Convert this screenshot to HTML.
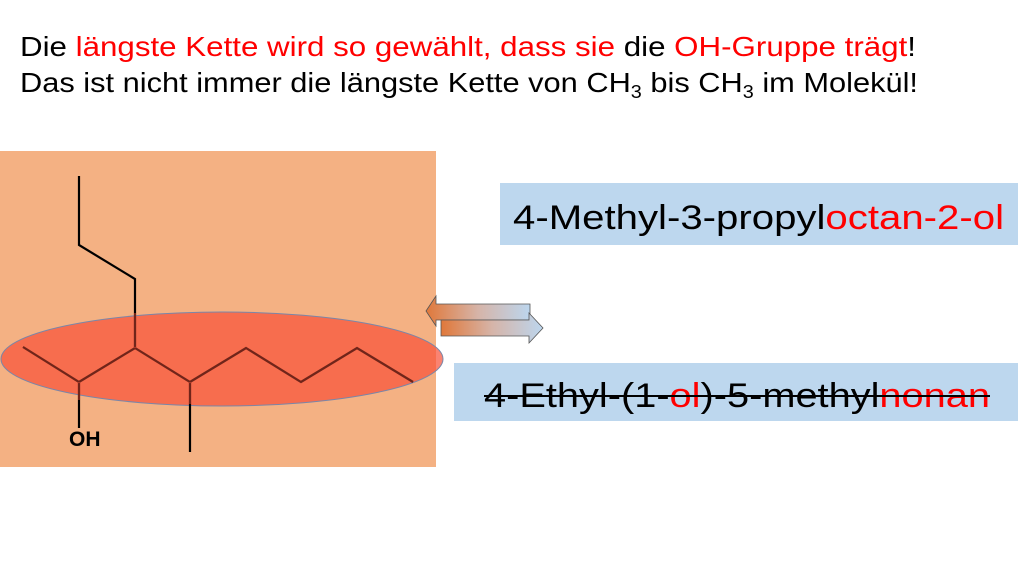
<!DOCTYPE html>
<html><head><meta charset="utf-8"><style>html,body{margin:0;padding:0;background:#fff}svg{display:block}</style></head>
<body>
<svg width="1024" height="576" viewBox="0 0 1024 576" xmlns="http://www.w3.org/2000/svg" font-family="Liberation Sans, sans-serif">
<defs>
<linearGradient id="g" x1="0" x2="1" y1="0" y2="0">
<stop offset="0" stop-color="#e0783a"/><stop offset="0.5" stop-color="#d6b4a8"/><stop offset="1" stop-color="#bcd6ee"/>
</linearGradient>
</defs>
<text x="20" y="56" font-size="28" textLength="896" lengthAdjust="spacingAndGlyphs"><tspan fill="#000">Die </tspan><tspan fill="#ff0000">längste Kette wird so gewählt, dass sie</tspan><tspan fill="#000"> die </tspan><tspan fill="#ff0000">OH-Gruppe trägt</tspan><tspan fill="#000">!</tspan></text>
<text x="20" y="92" font-size="28" textLength="898" lengthAdjust="spacingAndGlyphs">Das ist nicht immer die längste Kette von CH<tspan font-size="18" dy="6">3</tspan><tspan dy="-6"> bis CH</tspan><tspan font-size="18" dy="6">3</tspan><tspan dy="-6"> im Molekül!</tspan></text>
<rect x="0" y="151" width="436" height="316" fill="#f4b183"/>
<ellipse cx="222" cy="359" rx="221" ry="47" fill="#f8533a" fill-opacity="0.72" stroke="#7a86a8" stroke-width="1"/>
<g stroke="#000" stroke-width="2.2" fill="none" stroke-linejoin="miter">
<polyline points="79,176 79,245 135,279 135,348"/>
<polyline points="23,347 79,382 135,348 190,382 246,348 301,382 357,348 413,382"/>
<line x1="79" y1="382" x2="79" y2="428"/>
<line x1="190" y1="382" x2="190" y2="452"/>
</g>
<g stroke="#f8533a" stroke-opacity="0.45" stroke-width="2.4" fill="none">
<polyline points="135,313 135,348"/>
<polyline points="23,347 79,382 135,348 190,382 246,348 301,382 357,348 413,382"/>
<line x1="79" y1="382" x2="79" y2="400"/>
<line x1="190" y1="382" x2="190" y2="404"/>
</g>
<text x="69" y="446" font-size="21" font-weight="bold">OH</text>
<polygon points="426,311 436,296 436,304 530,304 530,320 436,320 436,326" fill="url(#g)" stroke="#555" stroke-width="0.8"/>
<polygon points="441,320 529,320 529,313 543,328 529,343 529,336 441,336" fill="url(#g)" stroke="#555" stroke-width="0.8"/>
<rect x="500" y="183" width="518" height="62" fill="#bdd7ee"/>
<text x="513" y="229" font-size="34" textLength="491" lengthAdjust="spacingAndGlyphs">4-Methyl-3-propyl<tspan fill="#ff0000">octan-2-ol</tspan></text>
<rect x="454" y="363" width="564" height="58" fill="#bdd7ee"/>
<text x="484" y="407" font-size="34" textLength="506" lengthAdjust="spacingAndGlyphs">4-Ethyl-(1-<tspan fill="#ff0000">ol</tspan>)-5-methyl<tspan fill="#ff0000">nonan</tspan></text>
<line x1="484" y1="396" x2="990" y2="396" stroke="#000" stroke-width="2"/>
</svg>
</body></html>
